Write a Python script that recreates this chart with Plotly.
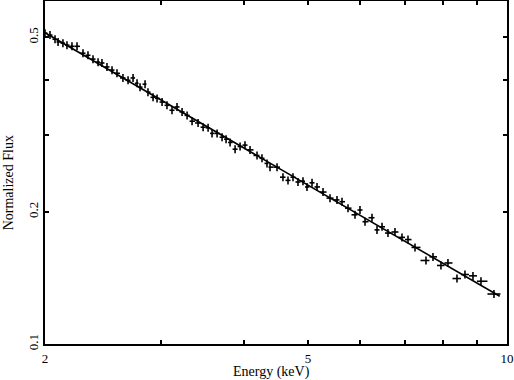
import numpy as np
import plotly.graph_objects as go

# Spectrum points (keV, normalized flux)
energia = [2.000, 2.035, 2.071, 2.093, 2.129, 2.159, 2.197, 2.236, 2.283, 2.323,
           2.364, 2.406, 2.439, 2.482, 2.526, 2.570, 2.624, 2.671, 2.718, 2.756,
           2.785, 2.834, 2.863, 2.914, 2.955, 3.007, 3.059, 3.113, 3.168, 3.224,
           3.281, 3.338, 3.409, 3.469, 3.530, 3.579, 3.642, 3.706, 3.758, 3.811,
           3.878, 3.946, 4.014, 4.085, 4.186, 4.259, 4.334, 4.380, 4.488, 4.582,
           4.663, 4.745, 4.828, 4.913, 4.982, 5.070, 5.159, 5.268, 5.398, 5.531,
           5.628, 5.747, 5.889, 5.992, 6.098, 6.248, 6.358, 6.470, 6.606, 6.769,
           6.936, 7.083, 7.258, 7.541, 7.727, 7.945, 8.141, 8.401, 8.638, 8.882,
           9.133, 9.556]
fluxo = [0.511, 0.506, 0.495, 0.488, 0.485, 0.480, 0.477, 0.477, 0.460, 0.455,
         0.446, 0.439, 0.437, 0.428, 0.421, 0.414, 0.404, 0.399, 0.404, 0.393,
         0.385, 0.391, 0.375, 0.365, 0.363, 0.356, 0.350, 0.341, 0.347, 0.338,
         0.332, 0.322, 0.319, 0.312, 0.311, 0.302, 0.302, 0.296, 0.293, 0.288,
         0.278, 0.282, 0.284, 0.277, 0.269, 0.265, 0.258, 0.253, 0.253, 0.240,
         0.236, 0.240, 0.234, 0.235, 0.228, 0.233, 0.228, 0.222, 0.215, 0.213,
         0.211, 0.204, 0.197, 0.202, 0.190, 0.194, 0.182, 0.185, 0.179, 0.180,
         0.175, 0.173, 0.166, 0.155, 0.158, 0.151, 0.153, 0.141, 0.144, 0.143,
         0.139, 0.130]

# Power-law model (straight line in log-log), end points
modelo_e = [2.0, 9.75]
modelo_f = [0.512, 0.1285]

# bin half widths from neighbouring bins (log midpoints)
le = np.log10(energia)
bordas = np.concatenate([[le[0] - (le[1] - le[0]) / 2], (le[1:] + le[:-1]) / 2,
                         [le[-1] + (le[-1] - le[-2]) / 2]])
lo = np.array(energia) - 10 ** bordas[:-1]
hi = 10 ** bordas[1:] - np.array(energia)

fig = go.Figure()
fig.add_trace(go.Scatter(
    x=modelo_e, y=modelo_f, mode='lines',
    line=dict(color='black', width=1.6), showlegend=False))
fig.add_trace(go.Scatter(
    x=energia, y=fluxo, mode='markers',
    marker=dict(size=1, color='black'),
    error_x=dict(type='data', symmetric=False, array=hi, arrayminus=lo,
                 color='black', thickness=1.6, width=0),
    error_y=dict(type='percent', value=2.1, color='black', thickness=1.6, width=0),
    showlegend=False))

fonte = dict(family='Liberation Serif, Times New Roman, serif', size=13, color='black')
fig.update_layout(
    width=514, height=380,
    margin=dict(l=45, r=7, t=1, b=36),
    plot_bgcolor='white', paper_bgcolor='white',
    font=fonte,
)
fig.update_xaxes(
    type='log', range=[np.log10(2), 1], showgrid=False, zeroline=False,
    showline=True, linecolor='black', linewidth=2, mirror='ticks',
    ticks='inside', ticklen=4, tickwidth=1.5, tickcolor='black',
    tickvals=[2, 3, 4, 5, 6, 7, 8, 9, 10],
    ticktext=['2', '', '', '5', '', '', '', '', '10'],
    ticklabelstandoff=1,
    automargin=False,
)
fig.update_yaxes(
    type='log', range=[-1, np.log10(0.605)], showgrid=False, zeroline=False,
    showline=True, linecolor='black', linewidth=2, mirror='ticks',
    ticks='inside', ticklen=4, tickwidth=1.5, tickcolor='black',
    tickvals=[0.1, 0.2, 0.3, 0.4, 0.5],
    ticktext=['0.1', '0.2', '', '', '0.5'], tickangle=-90,
    automargin=False,
)

# axis titles as annotations so they sit where the reference has them
fig.add_annotation(text='Energy (keV)', xref='paper', yref='paper', x=0.49, y=0,
                   yanchor='top', yshift=-18, showarrow=False, font=dict(size=14))
fig.add_annotation(text='Normalized Flux', xref='paper', yref='paper', x=0, y=0.47,
                   xanchor='right', xshift=-27, textangle=-90, showarrow=False,
                   font=dict(size=14))

# page body margin off so the figure sits at the window corner
fig.write_html("out.html", post_script="document.body.style.margin='0';",
               config={'displayModeBar': False})
